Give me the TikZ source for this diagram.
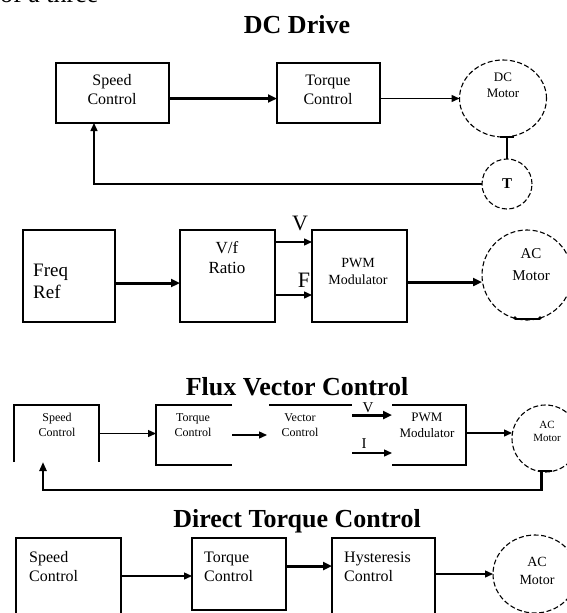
\documentclass[tikz,border=0pt]{standalone}
\usepackage{fontspec}
\setmainfont{Liberation Serif}
\usetikzlibrary{arrows.meta,shapes.geometric}
\newcommand{\fsz}[2]{\fontsize{#1}{#2}\selectfont}
\tikzset{
  blk/.style={draw, line width=1.7pt, inner sep=0pt, outer sep=0pt},
  ghost/.style={inner sep=0pt, outer sep=0pt},
  side/.style={line width=1.7pt},
  motor/.style={draw, ellipse, line width=1.1pt, dash pattern=on 5pt off 2.5pt, inner sep=0pt, outer sep=0pt},
  txt/.style={inner sep=0pt, align=center},
  ttl/.style={inner sep=0pt, anchor=base, font=\bfseries\fsz{26}{30}},
  thinarr/.style={line width=1.4pt, -{Triangle[length=8pt,width=7pt]}},
  thickarr/.style={line width=3pt, -{Triangle[length=9pt,width=8pt]}},
  tick/.style={line width=1.4pt}
}
\begin{document}
\begin{tikzpicture}[x=1pt,y=-1pt]
\useasboundingbox (0,0) rectangle (567,613);
\fill[white] (0,0) rectangle (567,613);

% fragment of preceding text line
\node[inner sep=0pt, anchor=base west, font=\fsz{26}{30}] (frag) at (0,2) {of a three};

% ================= DC Drive =================
\node[ttl] (t1) at (297,33) {DC Drive};
\node[blk, minimum width=113pt, minimum height=60pt] (sc1) at (112.5,93) {};
\node[blk, minimum width=103pt, minimum height=60pt] (tc1) at (328.5,93) {};
\node[motor, minimum width=87pt, minimum height=77pt] (dcm) at (503,98.5) {};
\node[motor, circle, minimum size=50pt] (tach) at (507,184) {};
\node[txt, font=\fsz{16}{19}] (sc1t) at (112,90) {Speed\\Control};
\node[txt, font=\fsz{16}{19}] (tc1t) at (328,90) {Torque\\Control};
\node[txt, font=\fsz{13}{16}] (dcmt) at (503,85) {DC\\Motor};
\node[txt, font=\bfseries\fsz{15}{18}] (tacht) at (507,184) {T};
\draw[thickarr] (sc1.east |- dcm.west) -- (tc1.west |- dcm.west);
\draw[thinarr] (tc1.east |- dcm.west) -- (dcm.west);
\draw[tick] ([xshift=-3pt]dcm.south) -- ([xshift=11pt]dcm.south);
\draw[tick] (tach.north |- dcm.south) -- (tach.north);
\draw[thinarr] (tach.west) -| ([xshift=-18.5pt]sc1.south);

% ================= V/f drive =================
\node[blk, minimum width=92pt, minimum height=92pt] (fr) at (69,276) {};
\node[blk, minimum width=95pt, minimum height=92pt] (vf) at (227.5,276) {};
\node[blk, minimum width=95pt, minimum height=92pt] (pwm2) at (359.5,276) {};
\node[motor, circle, minimum size=90pt] (acm2) at (527,275) {};
\node[txt, align=left, anchor=west, font=\fsz{19}{22}] (frt) at (33,281) {Freq\\Ref};
\node[txt, font=\fsz{17}{20}] (vft) at (227,258) {V/f\\Ratio};
\node[txt, font=\fsz{14}{17}] (pwm2t) at (358,271) {PWM\\Modulator};
\node[txt, font=\fsz{15}{22}] (acm2t) at (531,265) {AC\\Motor};
\node[txt, font=\fsz{22}{24}] (vlab2) at (300,223) {V};
\node[txt, font=\fsz{22}{24}] (flab2) at (304,280) {F};
\draw[thickarr] ([yshift=-7pt]fr.east) -- ([yshift=-7pt]vf.west);
\draw[thinarr] ([yshift=34pt]vf.east) -- ([yshift=34pt]pwm2.west);
\draw[thinarr] ([yshift=-19pt]vf.east) -- ([yshift=-19pt]pwm2.west);
\draw[thickarr] ([yshift=-6pt]pwm2.east) -- ([yshift=-6pt]pwm2.east -| acm2.west);
\draw[tick] ([xshift=-12pt,yshift=1pt]acm2.south) -- ([xshift=13pt,yshift=1pt]acm2.south);
\fill ([xshift=-12pt,yshift=2pt]acm2.south) circle (1.8pt);
\fill ([xshift=13pt,yshift=2pt]acm2.south) circle (1.8pt);

% ================= Flux Vector Control =================
\node[ttl] (t3) at (297,395) {Flux Vector Control};
\node[ghost, minimum width=85pt, minimum height=57pt] (sc3) at (56.5,433.5) {};
\node[ghost, minimum width=76pt, minimum height=60pt] (tc3) at (194,435) {};
\node[ghost, minimum width=83pt, minimum height=60pt] (vc3) at (310.5,435) {};
\node[ghost, minimum width=74pt, minimum height=60pt] (pwm3) at (429,435) {};
\node[motor, circle, minimum size=67pt] (acm3) at (545.5,438.5) {};
\draw[side] (sc3.south west) -- (sc3.north west) -- (sc3.north east) -- (sc3.south east);
\draw[side] (tc3.north east) -- (tc3.north west) -- (tc3.south west) -- (tc3.south east);
\draw[side] (vc3.north west) -- (vc3.north east);
\draw[side] (pwm3.north west) -- (pwm3.north east) -- (pwm3.south east) -- (pwm3.south west);
\node[txt, font=\fsz{12}{15}] (sc3t) at (57,425) {Speed\\Control};
\node[txt, font=\fsz{12}{15}] (tc3t) at (193,425) {Torque\\Control};
\node[txt, font=\fsz{12}{15}] (vc3t) at (300,425) {Vector\\Control};
\node[txt, font=\fsz{13}{16}] (pwm3t) at (427,425) {PWM\\Modulator};
\node[txt, font=\fsz{11}{13}] (acm3t) at (547,431) {AC\\Motor};
\node[txt, font=\fsz{15}{17}] (vlab3) at (368,408) {V};
\node[txt, font=\fsz{15}{17}] (ilab3) at (364,444) {I};
\draw[thinarr] (sc3.east) -- (sc3.east -| tc3.west);
\draw[thinarr] (tc3.east) -- ([xshift=-2pt]vc3.west);
\draw[thickarr] ([yshift=20pt]vc3.east) -- ([yshift=20pt]pwm3.west);
\draw[thinarr] ([yshift=-18pt]vc3.east) -- ([yshift=-18pt]pwm3.west);
\draw[thinarr] ([yshift=2pt]pwm3.east) -- ([yshift=2pt]pwm3.east -| acm3.west);
\draw[tick] ([xshift=-8pt,yshift=1pt]acm3.south) -- ([xshift=6pt,yshift=1pt]acm3.south);
\draw[line width=2.4pt, -{Triangle[length=9pt,width=7pt]}] ([xshift=-4pt,yshift=1pt]acm3.south) -- ++(0,19) -| ([xshift=-13.5pt]sc3.south);

% ================= Direct Torque Control =================
\node[ttl] (t4) at (297,527) {Direct Torque Control};
\node[ghost, minimum width=105pt, minimum height=80pt] (sc4) at (68.5,578) {};
\node[blk, minimum width=94pt, minimum height=72pt] (tc4) at (239,574) {};
\node[ghost, minimum width=103pt, minimum height=80pt] (hc4) at (383.5,578) {};
\node[motor, minimum width=84pt, minimum height=78pt] (acm4) at (535,574) {};
\draw[side] (sc4.south west) -- (sc4.north west) -- (sc4.north east) -- (sc4.south east);
\draw[side] (hc4.south west) -- (hc4.north west) -- (hc4.north east) -- (hc4.south east);
\node[txt, align=left, anchor=west, font=\fsz{16}{19}] (sc4t) at (29,566.5) {Speed\\Control};
\node[txt, align=left, anchor=west, font=\fsz{16}{19}] (tc4t) at (204,566.5) {Torque\\Control};
\node[txt, align=left, anchor=west, font=\fsz{16}{19}] (hc4t) at (344,566.5) {Hysteresis\\Control};
\node[txt, font=\fsz{14}{18}] (acm4t) at (537,571) {AC\\Motor};
\draw[thinarr] ([yshift=2pt]sc4.east) -- ([yshift=2pt]sc4.east -| tc4.west);
\draw[thickarr] ([yshift=8pt]tc4.east) -- ([yshift=8pt]tc4.east -| hc4.west);
\draw[thinarr] ([yshift=4pt]hc4.east) -- ([yshift=4pt]hc4.east -| acm4.west);
\end{tikzpicture}
\end{document}
